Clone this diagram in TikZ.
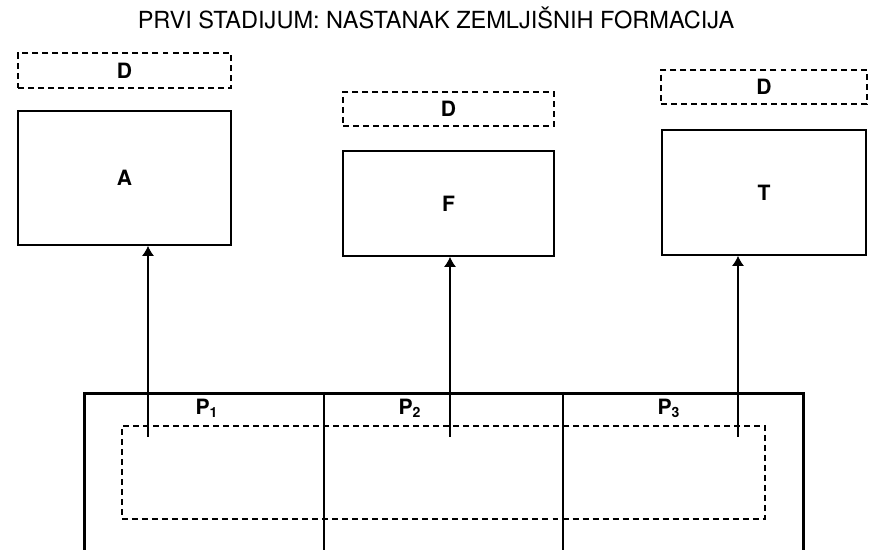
\documentclass[tikz,border=0pt]{standalone}
\usepackage{fontspec}
\setmainfont{TeX Gyre Heros}
\usetikzlibrary{arrows.meta}
\tikzset{
    dbox/.style={draw, line width=1pt, dash pattern=on 3.4pt off 2.3pt, inner sep=0pt, font=\bfseries\large},
    fbox/.style={draw, line width=1pt, inner sep=0pt, font=\bfseries\large},
    part/.style={draw, line width=1.5pt, inner sep=0pt},
    up/.style={-{Latex[length=2mm,width=2.4mm]}, line width=0.7pt},
}

\begin{document}
\begin{tikzpicture}
    \useasboundingbox (0,0) rectangle (17.4,11);
    \clip (0,0) rectangle (17.4,11);

    % Title
    \node (title) at (8.72,10.64) {\fontsize{13.4}{15}\selectfont PRVI STADIJUM: NASTANAK ZEMLJIŠNIH FORMACIJA};

    % Upper boxes
    \node[dbox, minimum width=4.26cm, minimum height=0.70cm] (D1) at (2.49,9.59) {D};
    \node[fbox, minimum width=4.26cm, minimum height=2.68cm] (A) at (2.49,7.44) {A};

    \node[dbox, minimum width=4.22cm, minimum height=0.68cm] (D2) at (8.97,8.82) {D};
    \node[fbox, minimum width=4.22cm, minimum height=2.10cm] (F) at (8.97,6.93) {F};

    \node[dbox, minimum width=4.12cm, minimum height=0.68cm] (D3) at (15.28,9.26) {D};
    \node[fbox, minimum width=4.08cm, minimum height=2.50cm] (T) at (15.28,7.15) {T};

    % Lower row
    \node[part, minimum width=14.38cm, minimum height=3.9cm, anchor=north west] (base) at (1.66,3.16) {};
    \draw[part] (base.north -| 6.48,0) -- (base.south -| 6.48,0);
    \draw[part] (base.north -| 11.26,0) -- (base.south -| 11.26,0);

    \node[font=\bfseries\large] (P1) at (4.14,2.84) {P\textsubscript{1}};
    \node[font=\bfseries\large] (P2) at (8.20,2.84) {P\textsubscript{2}};
    \node[font=\bfseries\large] (P3) at (13.38,2.84) {P\textsubscript{3}};

    \node[dbox, line width=0.9pt, minimum width=12.86cm, minimum height=1.86cm, anchor=north west] (soil) at (2.42,2.50) {};

    % Arrows
    \coordinate (s1) at (2.96,2.26);
    \coordinate (s2) at (9.00,2.26);
    \coordinate (s3) at (14.76,2.26);
    \draw[up] (s1) -- (s1 |- A.south);
    \draw[up] (s2) -- (s2 |- F.south);
    \draw[up] (s3) -- (s3 |- T.south);
\end{tikzpicture}
\end{document}
